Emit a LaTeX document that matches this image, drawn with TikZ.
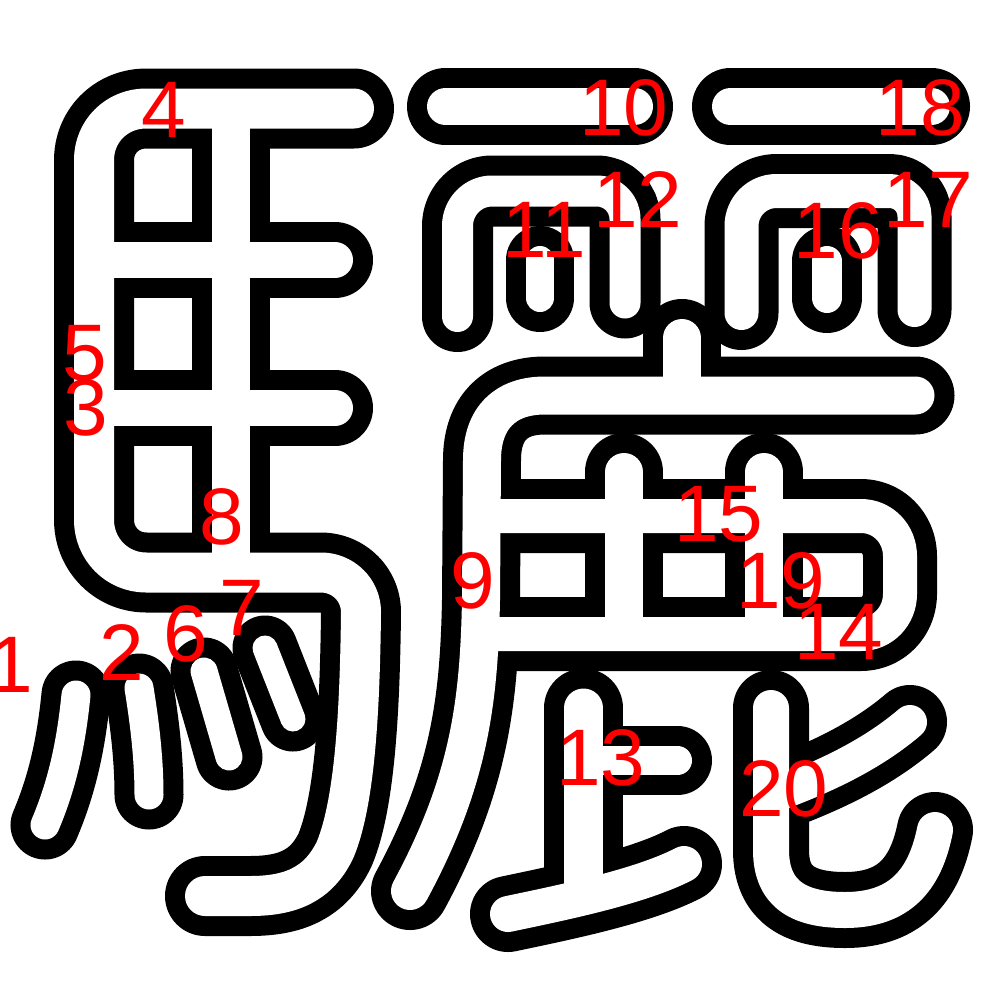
\documentclass[tikz,border=0pt]{standalone}
\usepackage{fontspec}
\setmainfont{Liberation Sans}
\tikzset{lbl/.style={text=red, inner sep=0pt, font=\fontsize{22.8}{22.8}\selectfont}}
\newcommand\bw{+20}
\newcommand\stk[2]{\draw[line width={(#1\bw)*0.01cm}] #2;}
\newcommand\glyphpaths{%
  % --- 馬 ---
  \stk{60}{(354,108.5) -- (146,108.5) .. controls (117,108.5) and (94,131) .. (94,160) -- (94,520) .. controls (94,549) and (117,572.5) .. (146,572.5) -- (321,572.5) .. controls (343,572.5) and (361,590) .. (361,612) .. controls (360,700) and (356,800) .. (335,850) .. controls (318,885) and (290,896) .. (250,896) -- (205,896)}
  \stk{58}{(231,115) -- (231,565)}
  \stk{56}{(94,260) -- (335,260)}
  \stk{56}{(94,408) -- (335,408)}
  \stk{49}{(76,695) .. controls (71,745) and (62,785) .. (45,825)}
  \stk{49}{(139,688) .. controls (145,725) and (149,760) .. (149,795)}
  \stk{47}{(204,671) -- (229,757)}
  \stk{45}{(265,648) -- (293,719)}
  % --- 丽 ---
  \stk{57}{(445.5,106.5) -- (634.5,106.5)}
  \stk{57}{(730.5,106.5) -- (931.5,106.5)}
  \stk{51}{(457.5,316.5) -- (457.5,226) .. controls (457.5,206.7) and (473,191) .. (492,191) -- (597,191) .. controls (612.5,191) and (625,203.5) .. (625,219) -- (625,303)}
  \stk{48}{(540,260) -- (540,298)}
  \stk{54}{(741.5,313) -- (741.5,226) .. controls (741.5,206.7) and (757,191) .. (776.5,191) -- (889.5,191) .. controls (903.3,191) and (914.5,202) .. (914.5,216) -- (914.5,310)}
  \stk{50}{(827,261) -- (827,298)}
  % --- 广 ---
  \stk{58}{(682,338) -- (682,388)}
  \stk{58}{(915.5,395.5) -- (545,395.5) .. controls (505,395.5) and (482,418) .. (482,460) -- (481,600) .. controls (479,700) and (470,780) .. (410,891)}
  % --- box ---
  \stk{54}{(482,516) -- (861,516) .. controls (883,516) and (900,534) .. (900,556) -- (900,594) .. controls (900,616) and (883,634) .. (861,634) -- (482,634)}
  \stk{58}{(624,472) -- (624,622)}
  \stk{58}{(764,472) -- (764,622)}
  % --- 比 ---
  \stk{59}{(583.5,708) -- (583.5,888)}
  \stk{49}{(583.5,760.5) -- (677.5,760.5)}
  \stk{56}{(508,914) .. controls (560,903) and (640,887) .. (684,864)}
  \stk{56}{(771,708) -- (771,850) .. controls (771,895) and (800,910) .. (845,910) .. controls (900,910) and (925,880) .. (935,830)}
  \stk{54}{(775,795) .. controls (830,775) and (875,752) .. (910,722)}
}
\begin{document}
\begin{tikzpicture}[x=0.01cm,y=-0.01cm,line cap=round,line join=round]
\useasboundingbox (0,0) rectangle (1000,1000);
\fill[white] (0,0) rectangle (1000,1000);
\begin{scope}[draw=black]
\renewcommand\bw{+20}\glyphpaths
\end{scope}
\begin{scope}[draw=white]
\renewcommand\bw{-20}\glyphpaths
\end{scope}
\node[lbl] (n1) at (11,665) {1};
\node[lbl] (n2) at (122,652) {2};
\node[lbl] (n3) at (86,408) {3};
\node[lbl] (n4) at (164,110) {4};
\node[lbl] (n5) at (85,353) {5};
\node[lbl] (n6) at (186,634) {6};
\node[lbl] (n7) at (242,608) {7};
\node[lbl] (n8) at (222,517) {8};
\node[lbl] (n9) at (473,581) {9};
\node[lbl] (n10) at (624,108) {10};
\node[lbl] (n11) at (544,230) {11};
\node[lbl] (n12) at (638,200) {12};
\node[lbl] (n13) at (601,758) {13};
\node[lbl] (n14) at (839,632) {14};
\node[lbl] (n15) at (719,514) {15};
\node[lbl] (n16) at (838,231) {16};
\node[lbl] (n17) at (928,200) {17};
\node[lbl] (n18) at (920,108) {18};
\node[lbl] (n19) at (781,581) {19};
\node[lbl] (n20) at (784,789) {20};
\end{tikzpicture}
\end{document}
